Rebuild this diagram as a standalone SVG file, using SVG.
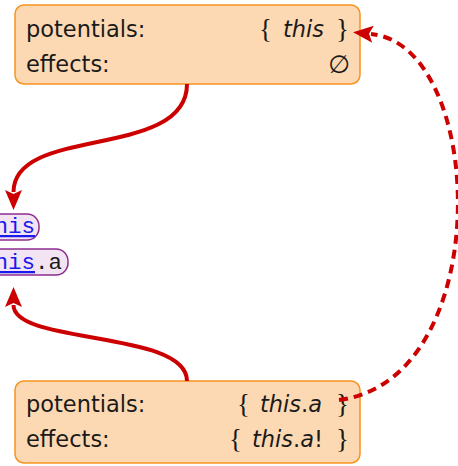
<svg xmlns="http://www.w3.org/2000/svg" width="458" height="466" viewBox="0 0 458 466">
<style>
.box{fill:#fdd9b3;stroke:#f7931e;stroke-width:1.5}
.lbl{font-family:"DejaVu Sans",sans-serif;font-size:22.5px;fill:#1a1a1a}
.it{font-style:italic}
.br{font-family:"Liberation Serif","DejaVu Serif",serif;font-size:27px;fill:#1a1a1a}
.pill{fill:#f3e4f3;stroke:#8e2c8e;stroke-width:1.5}
.mono{font-family:"Liberation Mono",monospace;font-size:22.5px}
.lnk{fill:#1a1aee;text-decoration:underline}
.red{fill:none;stroke:#cc0000;stroke-width:4}
</style>
<defs>
<marker id="ah" markerWidth="20" markerHeight="17" refX="2" refY="8.5" orient="auto" markerUnits="userSpaceOnUse">
<path d="M0,0 L20,8.5 L0,17 L4,8.5 Z" fill="#cc0000"/>
</marker>
</defs>
<g id="top">
<rect class="box" x="15" y="5" width="345" height="79" rx="9"/>
<text class="lbl" x="26" y="37">potentials:</text>
<text class="br" x="259" y="38">{</text>
<text class="lbl it" x="283" y="37">this</text>
<text class="br" x="336" y="38">}</text>
<text class="lbl" x="26" y="72">effects:</text>
<text class="lbl it" x="350" y="73" text-anchor="end" style="font-size:25px">∅</text>
</g>
<g id="pill1">
<rect class="pill" x="-20" y="214" width="59" height="26" rx="12"/>
<text class="mono" x="-19" y="233"><tspan class="lnk">this</tspan></text>
</g>
<g id="pill2">
<rect class="pill" x="-20" y="249" width="88" height="26" rx="12"/>
<text class="mono" x="-19" y="269"><tspan class="lnk">this</tspan><tspan fill="#1a1a1a">.a</tspan></text>
</g>
<g id="bottom">
<rect class="box" x="15" y="381" width="345" height="82" rx="9"/>
<text class="lbl" x="26" y="412">potentials:</text>
<text class="br" x="237" y="413">{</text>
<text class="lbl" x="260" y="412"><tspan class="it">this</tspan>.<tspan class="it">a</tspan></text>
<text class="br" x="336" y="413">}</text>
<text class="lbl" x="26" y="447">effects:</text>
<text class="br" x="229" y="448">{</text>
<text class="lbl" x="252" y="447"><tspan class="it">this</tspan>.<tspan class="it">a</tspan>!</text>
<text class="br" x="336" y="448">}</text>
</g>
<g id="connectors">
<path class="red" d="M187,84 C187,160 13.5,125 13.5,192" marker-end="url(#ah)"/>
<path class="red" d="M187,381 C187,330 13.5,345 13.5,305" marker-end="url(#ah)"/>
<path class="red" stroke-dasharray="9,6" stroke-width="4.5" d="M339,400 C497,380 487,45 371,34" marker-end="url(#ah)"/>
</g>
</svg>
